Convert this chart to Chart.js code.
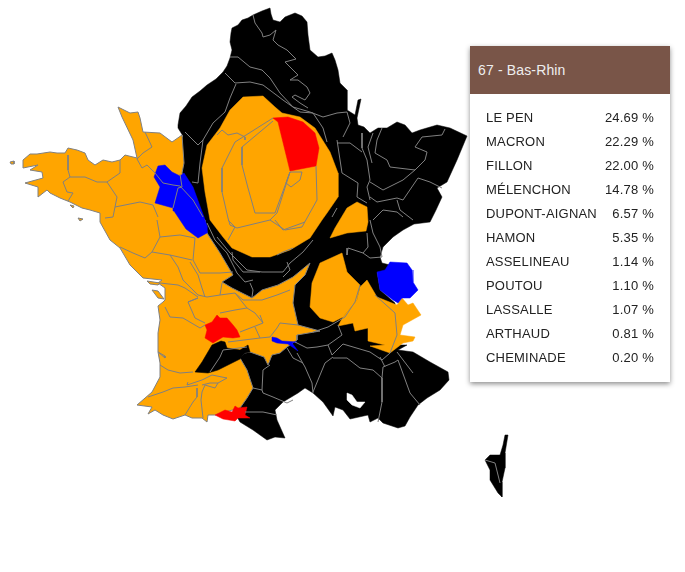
<!DOCTYPE html>
<html>
<head>
<meta charset="utf-8">
<title>67 - Bas-Rhin</title>
<script src="https://cdn.jsdelivr.net/npm/chart.js@4"></script>
<style>
  body { margin: 0; background: #fff; font-family: "Liberation Sans", Arial, sans-serif; }
  #map { position: absolute; left: 0; top: 0; }
  #card { position: absolute; left: 470px; top: 46px; width: 200px; height: 336px; background: #fff;
          box-shadow: 0 2px 5px rgba(0,0,0,.45); }
  #card h2 { margin: 0; height: 48px; line-height: 49px; padding-left: 8px; background: #795548;
             color: #eee; font-size: 14px; font-weight: 400; letter-spacing: .15px; }
  #rows { position: absolute; left: 16px; right: 16px; top: 60px; font-size: 13px; color: #222; letter-spacing: .2px; }
  .row { display: flex; justify-content: space-between; height: 24px; line-height: 24px; }
</style>
</head>
<body>
<canvas id="map" width="685" height="572"></canvas>
<div id="card"><h2 id="title"></h2><div id="rows"></div></div>
<script>
// results panel
const department = '67 - Bas-Rhin';
const candidates = ['LE PEN', 'MACRON', 'FILLON', 'MÉLENCHON', 'DUPONT-AIGNAN', 'HAMON', 'ASSELINEAU', 'POUTOU', 'LASSALLE', 'ARTHAUD', 'CHEMINADE'];
const scores = [24.69, 22.29, 22.00, 14.78, 6.57, 5.35, 1.14, 1.10, 1.07, 0.81, 0.20];

// map shapes
const blackMain = [[178,125],[180,113],[186,106],[192,97],[200,91],[207,85],[216,79],[223,72],[227,66],[230,58],[232,50],[230,42],[231,33],[232,28],[238,25],[242,20],[248,18],[253,15],[262,11],[270,8],[271,14],[273,20],[280,22],[285,17],[295,13],[302,16],[307,22],[308,35],[310,50],[318,57],[325,56],[332,53],[335,60],[338,70],[340,83],[347,90],[347,110],[355,115],[358,100],[361,99],[357,118],[358,125],[364,127],[370,133],[378,128],[387,128],[397,122],[405,125],[412,133],[420,130],[437,125],[450,128],[467,136],[457,160],[447,182],[437,188],[442,197],[436,210],[430,222],[414,224],[403,230],[393,237],[383,247],[380,257],[382,263],[390,265],[385,272],[377,272],[380,290],[395,303],[396,330],[398,345],[407,345],[398,350],[413,352],[430,362],[448,372],[449,380],[440,390],[427,398],[418,405],[410,417],[405,426],[398,428],[383,423],[378,418],[370,422],[368,415],[350,419],[343,410],[335,407],[333,416],[323,402],[313,393],[305,388],[298,393],[283,402],[275,410],[277,420],[285,438],[275,437],[267,440],[253,430],[240,422],[236,415],[190,300],[170,200],[175,150],[183,136],[178,128]];
const orangeWest = [[118,107],[130,113],[138,112],[140,118],[143,132],[160,133],[172,142],[182,135],[184,163],[182,173],[190,195],[203,218],[205,220],[207,233],[220,253],[233,275],[222,282],[232,288],[240,292],[252,298],[262,290],[278,285],[293,277],[310,263],[305,275],[295,285],[293,303],[298,325],[320,331],[297,335],[297,340],[287,347],[280,353],[272,355],[268,365],[264,357],[250,352],[245,353],[240,358],[247,370],[253,388],[247,398],[240,408],[225,412],[215,415],[208,415],[207,422],[202,418],[192,418],[185,415],[173,419],[163,415],[155,410],[148,414],[152,407],[137,405],[152,392],[160,377],[160,363],[158,352],[165,356],[165,358],[158,352],[158,333],[160,320],[158,306],[163,302],[165,300],[165,288],[158,283],[162,280],[143,278],[130,265],[120,248],[110,240],[100,222],[100,213],[90,210],[82,208],[70,202],[60,198],[50,193],[47,190],[38,197],[38,187],[25,183],[43,178],[42,172],[30,170],[38,165],[23,168],[23,160],[30,154],[37,154],[50,152],[57,153],[65,153],[68,148],[77,150],[85,153],[88,160],[95,165],[103,160],[112,162],[120,160],[125,155],[137,158],[133,140],[122,117]];
const blackSliver = [[221,341],[212,345],[202,362],[195,372],[208,373],[218,370],[240,359],[245,353],[250,352],[248,345],[240,350],[227,348],[225,342]];
const orangeParis = [[243,97],[263,96],[275,107],[282,113],[300,117],[315,128],[330,152],[338,173],[338,197],[327,213],[322,220],[310,238],[290,250],[270,257],[252,257],[232,248],[223,237],[210,220],[205,192],[202,168],[207,145],[220,128],[230,110]];
const orangeBurgundy = [[330,238],[335,228],[347,208],[357,202],[367,207],[368,222],[366,231],[347,233]];
const orangeRhone = [[312,283],[320,263],[342,253],[347,272],[360,285],[357,300],[343,317],[333,322],[320,318],[310,307]];
const orangeAlps = [[367,280],[377,297],[397,305],[402,298],[408,305],[413,303],[421,315],[403,325],[400,335],[415,337],[413,341],[403,343],[390,353],[370,346],[385,345],[368,341],[368,328],[355,331],[353,323],[338,326],[343,317],[357,300],[360,287]];
const isleRe = [[147,281],[160,283],[158,285],[150,284]];
const isleOleron = [[152,290],[158,291],[164,299],[158,298]];
const isleSein = [[10,162],[14,161],[14,164],[11,164]];
const isleGroix = [[70,205],[74,206],[73,208]];
const isleBelle = [[78,218],[83,219],[80,221]];
const corsica = [[505,435],[508,435],[505,453],[505,458],[505,468],[502,482],[502,497],[498,493],[490,480],[490,470],[485,460],[490,455],[500,455],[503,445]];
const whiteHole = [[347,393],[352,395],[357,402],[365,402],[360,408],[352,405],[347,400]];
const blueLoire = [[158,166],[165,165],[172,172],[180,176],[184,173],[193,187],[204,217],[207,226],[207,233],[198,238],[186,229],[174,211],[173,208],[155,203],[160,187],[154,177]];
const blueIsere = [[377,272],[385,270],[390,262],[407,263],[412,270],[413,282],[418,290],[410,298],[402,298],[398,303],[393,300],[380,290]];
const blueDordogne = [[272,337],[277,338],[282,341],[297,342],[292,343],[298,351],[288,344],[277,343],[272,341]];
const redParis = [[273,118],[288,117],[303,122],[315,133],[319,148],[316,166],[290,171],[278,122]];
const redLimoges = [[205,325],[212,322],[217,315],[220,318],[227,318],[233,325],[237,330],[240,337],[233,338],[223,337],[213,343],[205,338],[207,330]];
const redPyrenees = [[215,415],[225,410],[232,412],[235,406],[238,408],[247,407],[245,415],[250,418],[238,418],[235,421],[223,419]];

// department borders
const bordersBlack = [
  [[253,15],[255,23],[262,33],[263,37],[270,35],[276,30],[273,40],[278,45],[287,50],[296,59],[285,62],[298,75],[290,80],[298,80],[307,87],[310,93],[305,100],[295,95],[292,97],[300,103],[308,108]],
  [[230,57],[238,57],[250,67],[262,70],[270,78],[280,93],[293,107],[310,112],[323,117],[337,113],[347,112],[350,123],[343,137]],
  [[225,73],[235,83],[250,82],[263,85],[283,100],[300,112],[313,113],[323,128],[327,142]],
  [[236,84],[230,98],[225,112],[213,123],[203,140],[198,145],[190,137],[185,132]],
  [[203,140],[200,163],[198,183],[192,182]],
  [[337,143],[350,143],[362,152]],
  [[362,133],[362,148],[367,160],[370,180],[367,187],[370,200]],
  [[373,133],[368,147],[372,163]],
  [[382,128],[377,140],[375,153],[387,160],[390,167],[415,170],[425,160],[427,152],[415,147],[422,137],[442,135],[445,129]],
  [[415,170],[403,180],[383,190],[370,182]],
  [[418,178],[430,182],[442,188]],
  [[418,178],[403,200],[397,198],[377,202],[370,197]],
  [[397,200],[400,210],[413,220]],
  [[373,220],[383,210],[397,212],[403,217]],
  [[337,140],[342,173],[350,178],[358,183],[357,197],[367,203]],
  [[332,217],[337,208]],
  [[370,220],[373,233],[380,247],[382,257],[370,258],[363,253],[348,248],[347,255]],
  [[367,233],[368,247],[363,253]],
  [[338,325],[342,335],[328,345],[332,355],[343,344],[370,352],[382,360],[390,353]],
  [[328,345],[317,347],[307,348],[295,342]],
  [[333,357],[325,363],[313,392]],
  [[333,358],[347,358],[360,368],[373,370],[382,378],[383,367],[395,362],[398,360],[410,393],[420,405]],
  [[382,378],[382,402],[378,422]],
  [[380,357],[385,367]],
  [[397,352],[413,373]],
  [[297,353],[305,367],[312,383],[313,393]],
  [[287,348],[293,358],[303,363]],
  [[270,365],[263,370],[262,390]],
  [[253,388],[262,390],[263,393],[273,397],[287,403],[293,400]],
  [[245,412],[263,412],[277,415]],
  [[207,223],[215,240],[227,253],[237,273],[245,282],[253,280]],
  [[217,237],[230,253],[247,270],[262,272],[283,272],[290,263],[303,252],[313,240]],
  [[232,252],[233,260],[243,272],[260,272]],
  [[250,283],[253,290],[252,297]],
  [[287,262],[290,270],[283,277]],
  [[277,255],[283,252],[293,248]],
  [[210,372],[220,357],[223,350],[247,347]],
  [[485,460],[495,463],[498,475],[500,483]]
];
const bordersOrange = [
  [[273,118],[235,142],[222,168],[222,192],[228,218],[230,225],[237,228],[270,220],[285,230],[302,227],[317,200],[316,166]],
  [[273,121],[242,147],[242,165],[248,188],[255,213],[275,213],[290,172]],
  [[290,172],[302,172],[300,180],[291,187],[286,183],[290,172]],
  [[217,135],[222,130],[228,135],[237,133],[245,137],[245,140]],
  [[270,220],[277,213],[290,172]],
  [[228,220],[235,227],[228,240]],
  [[275,220],[283,230],[305,222]],
  [[145,132],[152,147],[143,153],[137,159],[142,168],[147,165],[155,173],[163,183]],
  [[163,183],[173,185],[180,186],[193,200],[203,217]],
  [[173,208],[178,188],[182,187],[180,174]],
  [[68,155],[68,170],[70,177],[63,182],[67,192],[73,193],[68,201]],
  [[70,177],[85,177],[97,182],[107,182],[120,173],[120,160]],
  [[107,182],[117,197],[115,207],[113,217],[105,218]],
  [[115,207],[140,202],[153,205],[158,217]],
  [[157,220],[160,237],[152,252],[145,258],[133,253],[120,247]],
  [[160,237],[180,235],[195,238],[193,260],[200,273],[220,273],[233,272]],
  [[152,252],[170,255],[178,267],[183,280],[198,295],[207,297],[220,295],[222,283]],
  [[170,255],[192,260]],
  [[190,262],[198,275],[202,288],[205,297]],
  [[160,283],[178,285],[185,288],[198,297]],
  [[188,302],[198,298],[188,302],[195,318],[205,323]],
  [[165,307],[170,317],[183,318],[200,328],[205,325]],
  [[220,295],[235,293],[247,308],[235,310],[220,313]],
  [[235,293],[243,300],[262,300],[277,295],[290,290]],
  [[247,308],[255,313],[263,323],[258,325],[240,332]],
  [[255,327],[260,338],[228,342]],
  [[260,338],[270,337],[277,328],[280,323],[298,325]],
  [[260,315],[263,323]],
  [[160,365],[168,370],[180,373],[193,372]],
  [[188,382],[187,385],[202,380],[212,375],[227,378],[218,383],[210,383],[202,385]],
  [[148,397],[163,392],[173,388],[185,387],[198,385]],
  [[197,388],[197,397],[193,402],[185,415]],
  [[205,385],[202,392],[201,400],[203,418]],
  [[205,385],[215,388],[218,383]],
  [[360,285],[355,302],[345,317],[328,327],[313,332]],
  [[375,295],[395,313],[397,335],[390,353]]
];

const BLACK = '#000', ORANGE = '#ffa500', BLUE = '#0000ff', RED = '#ff0000', GREY = '#808080';

function toPoints(shape) {
  return shape.map(p => ({ x: p[0], y: p[1] }));
}

function area(shape, colour, edge) {
  const closed = shape.concat([shape[0]]);
  return { data: toPoints(closed), backgroundColor: colour, borderColor: edge || colour,
           borderWidth: edge ? 1 : 0.5, fill: 'shape', showLine: true, pointRadius: 0, tension: 0 };
}

function border(shape) {
  return { data: toPoints(shape), borderColor: GREY, borderWidth: 1, fill: false, showLine: true, pointRadius: 0, tension: 0 };
}

// painted bottom to top
const layers = [
  area(blackMain, BLACK), area(corsica, BLACK), area(whiteHole, '#fff'),
  area(orangeWest, ORANGE, GREY), area(blackSliver, BLACK),
  area(orangeParis, ORANGE), area(orangeBurgundy, ORANGE), area(orangeRhone, ORANGE), area(orangeAlps, ORANGE),
  area(isleRe, ORANGE, GREY), area(isleOleron, ORANGE, GREY), area(isleSein, ORANGE, GREY), area(isleGroix, ORANGE, GREY), area(isleBelle, ORANGE, GREY),
  area(blueLoire, BLUE), area(blueIsere, BLUE), area(blueDordogne, BLUE),
  area(redParis, RED), area(redLimoges, RED), area(redPyrenees, RED)
].concat(bordersBlack.map(border), bordersOrange.map(border));

new Chart(document.getElementById('map'), {
  type: 'scatter',
  // first dataset ends up on top in chart.js, so flip
  data: { datasets: layers.reverse() },
  options: {
    responsive: false,
    animation: false,
    events: [],
    layout: { padding: 0 },
    plugins: { legend: { display: false }, tooltip: { enabled: false } },
    scales: {
      x: { type: 'linear', display: false, min: 0, max: 685 },
      y: { type: 'linear', display: false, min: 0, max: 572, reverse: true }
    }
  }
});

document.getElementById('title').textContent = department;
document.getElementById('rows').innerHTML = candidates.map((name, i) =>
  `<div class="row"><span>${name}</span><span>${scores[i].toFixed(2)} %</span></div>`).join('');
</script>
</body>
</html>
